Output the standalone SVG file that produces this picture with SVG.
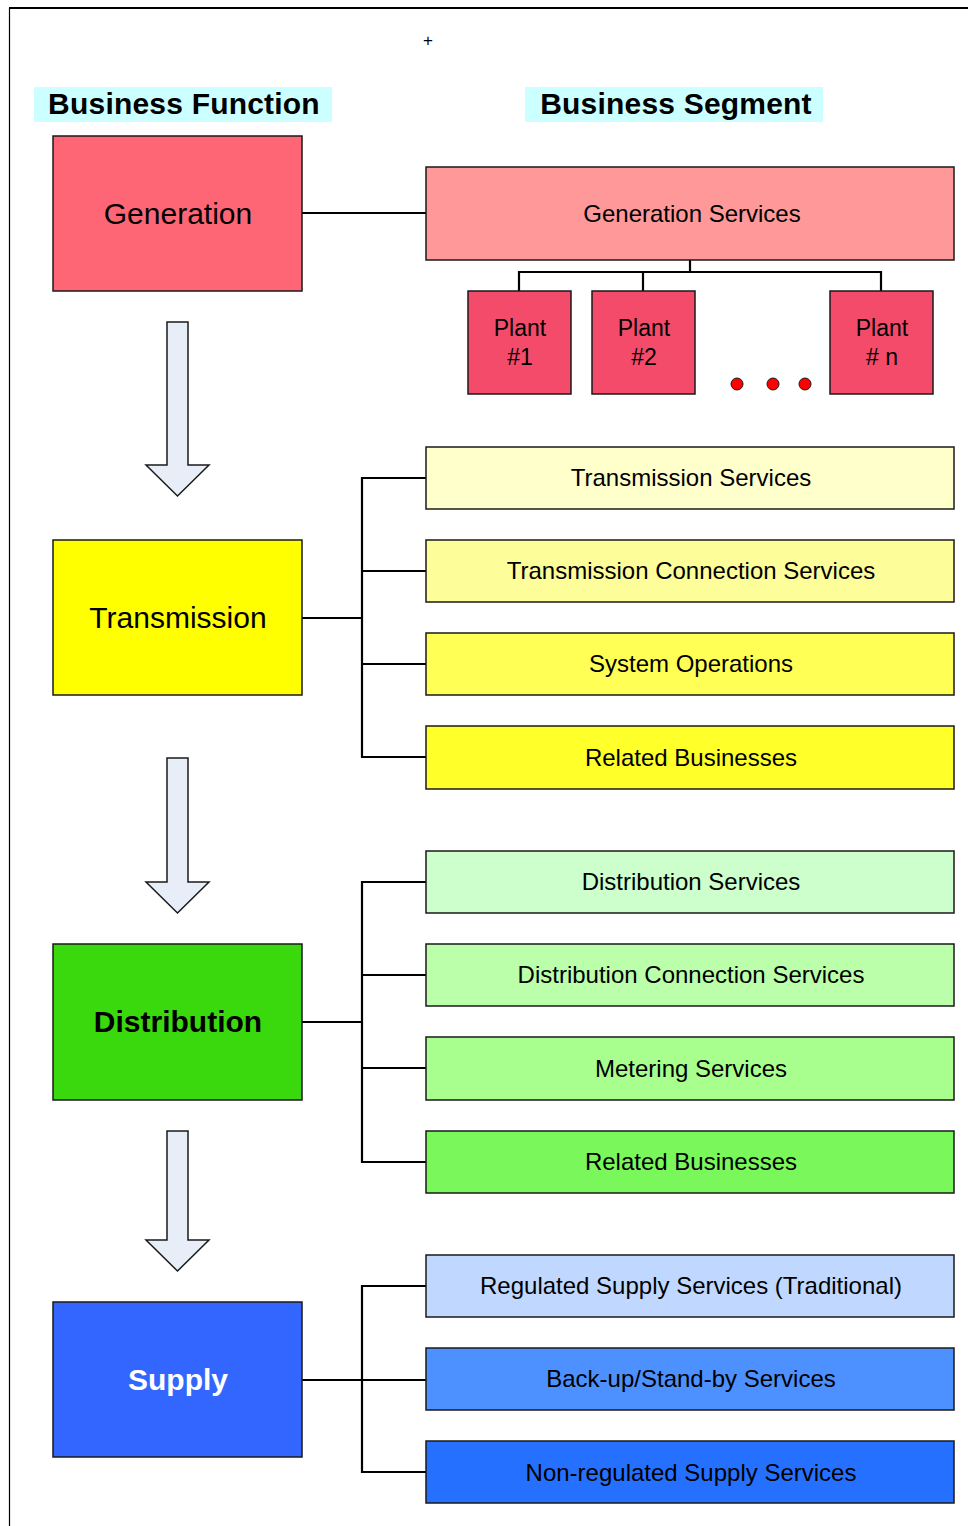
<svg xmlns="http://www.w3.org/2000/svg" width="968" height="1526" viewBox="0 0 968 1526">
  <style>
    text { font-family: "Liberation Sans", Arial, sans-serif; fill: #000; text-anchor: middle; }
    .box { stroke: #1a1a1a; stroke-width: 1.5; }
    .head { font-size: 30px; font-weight: bold; letter-spacing: 0.2px; }
    .func { font-size: 30px; }
    .seg { font-size: 24px; }
    .plant { font-size: 23px; }
    .mark { font-size: 17px; }
    .wire { fill: none; stroke: #000; stroke-width: 2.2; }
    .flow { fill: #e8eef8; stroke: #1a1a1a; stroke-width: 1.5; stroke-linejoin: miter; }
    .dot { fill: #ff0000; stroke: #1a1a1a; stroke-width: 1; }
  </style>

  <rect width="968" height="1526" fill="#ffffff"/>
  <!-- page frame -->
  <line x1="9" y1="8" x2="968" y2="8" stroke="#000" stroke-width="2"/>
  <line x1="9.5" y1="8" x2="9.5" y2="1526" stroke="#000" stroke-width="1.2"/>
  <text class="mark" x="428" y="46">+</text>

  <!-- column headings -->
  <g id="heading-function">
    <rect x="34" y="87" width="298" height="35" fill="#ccffff"/>
    <text class="head" x="184" y="114">Business Function</text>
  </g>
  <g id="heading-segment">
    <rect x="525" y="87" width="298" height="35" fill="#ccffff"/>
    <text class="head" x="676" y="114">Business Segment</text>
  </g>

  <!-- connectors -->
  <g id="connectors">
    <line class="wire" x1="302" y1="213" x2="426" y2="213"/>
    <path class="wire" d="M690 260 V272 M519 291 V272 H881 V291 M643 272 V291"/>
    <path class="wire" d="M302 618 H362 M426 478 H362 V757 H426 M362 571 H426 M362 664 H426"/>
    <path class="wire" d="M302 1022 H362 M426 882 H362 V1162 H426 M362 975 H426 M362 1068 H426"/>
    <path class="wire" d="M302 1380 H362 M426 1286 H362 V1472 H426 M362 1380 H426"/>
  </g>

  <!-- flow arrows between functions -->
  <g id="flow-arrows">
    <path class="flow" d="M167 322 H188 V465 H209 L177.5 496 L146 465 H167 Z"/>
    <path class="flow" d="M167 758 H188 V882 H209 L177.5 913 L146 882 H167 Z"/>
    <path class="flow" d="M167 1131 H188 V1240 H209 L177.5 1271 L146 1240 H167 Z"/>
  </g>

  <!-- business functions -->
  <g id="generation">
    <rect class="box" x="53" y="136" width="249" height="155" fill="#ff6675"/>
    <text class="func" x="178" y="224">Generation</text>
  </g>
  <g id="transmission">
    <rect class="box" x="53" y="540" width="249" height="155" fill="#ffff00"/>
    <text class="func" x="178" y="628">Transmission</text>
  </g>
  <g id="distribution">
    <rect class="box" x="53" y="944" width="249" height="156" fill="#39d90e"/>
    <text class="func" x="178" y="1032" font-weight="bold">Distribution</text>
  </g>
  <g id="supply">
    <rect class="box" x="53" y="1302" width="249" height="155" fill="#3366ff"/>
    <text class="func" x="178" y="1390" font-weight="bold" style="fill:#ffffff">Supply</text>
  </g>

  <!-- generation segments -->
  <g id="generation-services">
    <rect class="box" x="426" y="167" width="528" height="93" fill="#ff9999"/>
    <text class="seg" x="692" y="222">Generation Services</text>
  </g>
  <g id="plant-1">
    <rect class="box" x="468" y="291" width="103" height="103" fill="#f44b6b"/>
    <text class="plant" x="520" y="336">Plant</text>
    <text class="plant" x="520" y="365">#1</text>
  </g>
  <g id="plant-2">
    <rect class="box" x="592" y="291" width="103" height="103" fill="#f44b6b"/>
    <text class="plant" x="644" y="336">Plant</text>
    <text class="plant" x="644" y="365">#2</text>
  </g>
  <g id="plant-n">
    <rect class="box" x="830" y="291" width="103" height="103" fill="#f44b6b"/>
    <text class="plant" x="882" y="336">Plant</text>
    <text class="plant" x="882" y="365"># n</text>
  </g>
  <g id="ellipsis">
    <circle class="dot" cx="737" cy="384" r="6"/>
    <circle class="dot" cx="773" cy="384" r="6"/>
    <circle class="dot" cx="805" cy="384" r="6"/>
  </g>

  <!-- transmission segments -->
  <g id="transmission-services">
    <rect class="box" x="426" y="447" width="528" height="62" fill="#ffffcc"/>
    <text class="seg" x="691" y="486">Transmission Services</text>
  </g>
  <g id="transmission-connection">
    <rect class="box" x="426" y="540" width="528" height="62" fill="#fdfd99"/>
    <text class="seg" x="691" y="579">Transmission Connection Services</text>
  </g>
  <g id="system-operations">
    <rect class="box" x="426" y="633" width="528" height="62" fill="#ffff55"/>
    <text class="seg" x="691" y="672">System Operations</text>
  </g>
  <g id="transmission-related">
    <rect class="box" x="426" y="726" width="528" height="63" fill="#ffff2a"/>
    <text class="seg" x="691" y="766">Related Businesses</text>
  </g>

  <!-- distribution segments -->
  <g id="distribution-services">
    <rect class="box" x="426" y="851" width="528" height="62" fill="#ccffcc"/>
    <text class="seg" x="691" y="890">Distribution Services</text>
  </g>
  <g id="distribution-connection">
    <rect class="box" x="426" y="944" width="528" height="62" fill="#bbffaa"/>
    <text class="seg" x="691" y="983">Distribution Connection Services</text>
  </g>
  <g id="metering-services">
    <rect class="box" x="426" y="1037" width="528" height="63" fill="#a8ff8e"/>
    <text class="seg" x="691" y="1077">Metering Services</text>
  </g>
  <g id="distribution-related">
    <rect class="box" x="426" y="1131" width="528" height="62" fill="#7af75a"/>
    <text class="seg" x="691" y="1170">Related Businesses</text>
  </g>

  <!-- supply segments -->
  <g id="regulated-supply">
    <rect class="box" x="426" y="1255" width="528" height="62" fill="#c0d8ff"/>
    <text class="seg" x="691" y="1294">Regulated Supply Services (Traditional)</text>
  </g>
  <g id="backup-standby">
    <rect class="box" x="426" y="1348" width="528" height="62" fill="#4d90ff"/>
    <text class="seg" x="691" y="1387">Back-up/Stand-by Services</text>
  </g>
  <g id="non-regulated-supply">
    <rect class="box" x="426" y="1441" width="528" height="62" fill="#2670ff"/>
    <text class="seg" x="691" y="1481">Non-regulated Supply Services</text>
  </g>
</svg>
